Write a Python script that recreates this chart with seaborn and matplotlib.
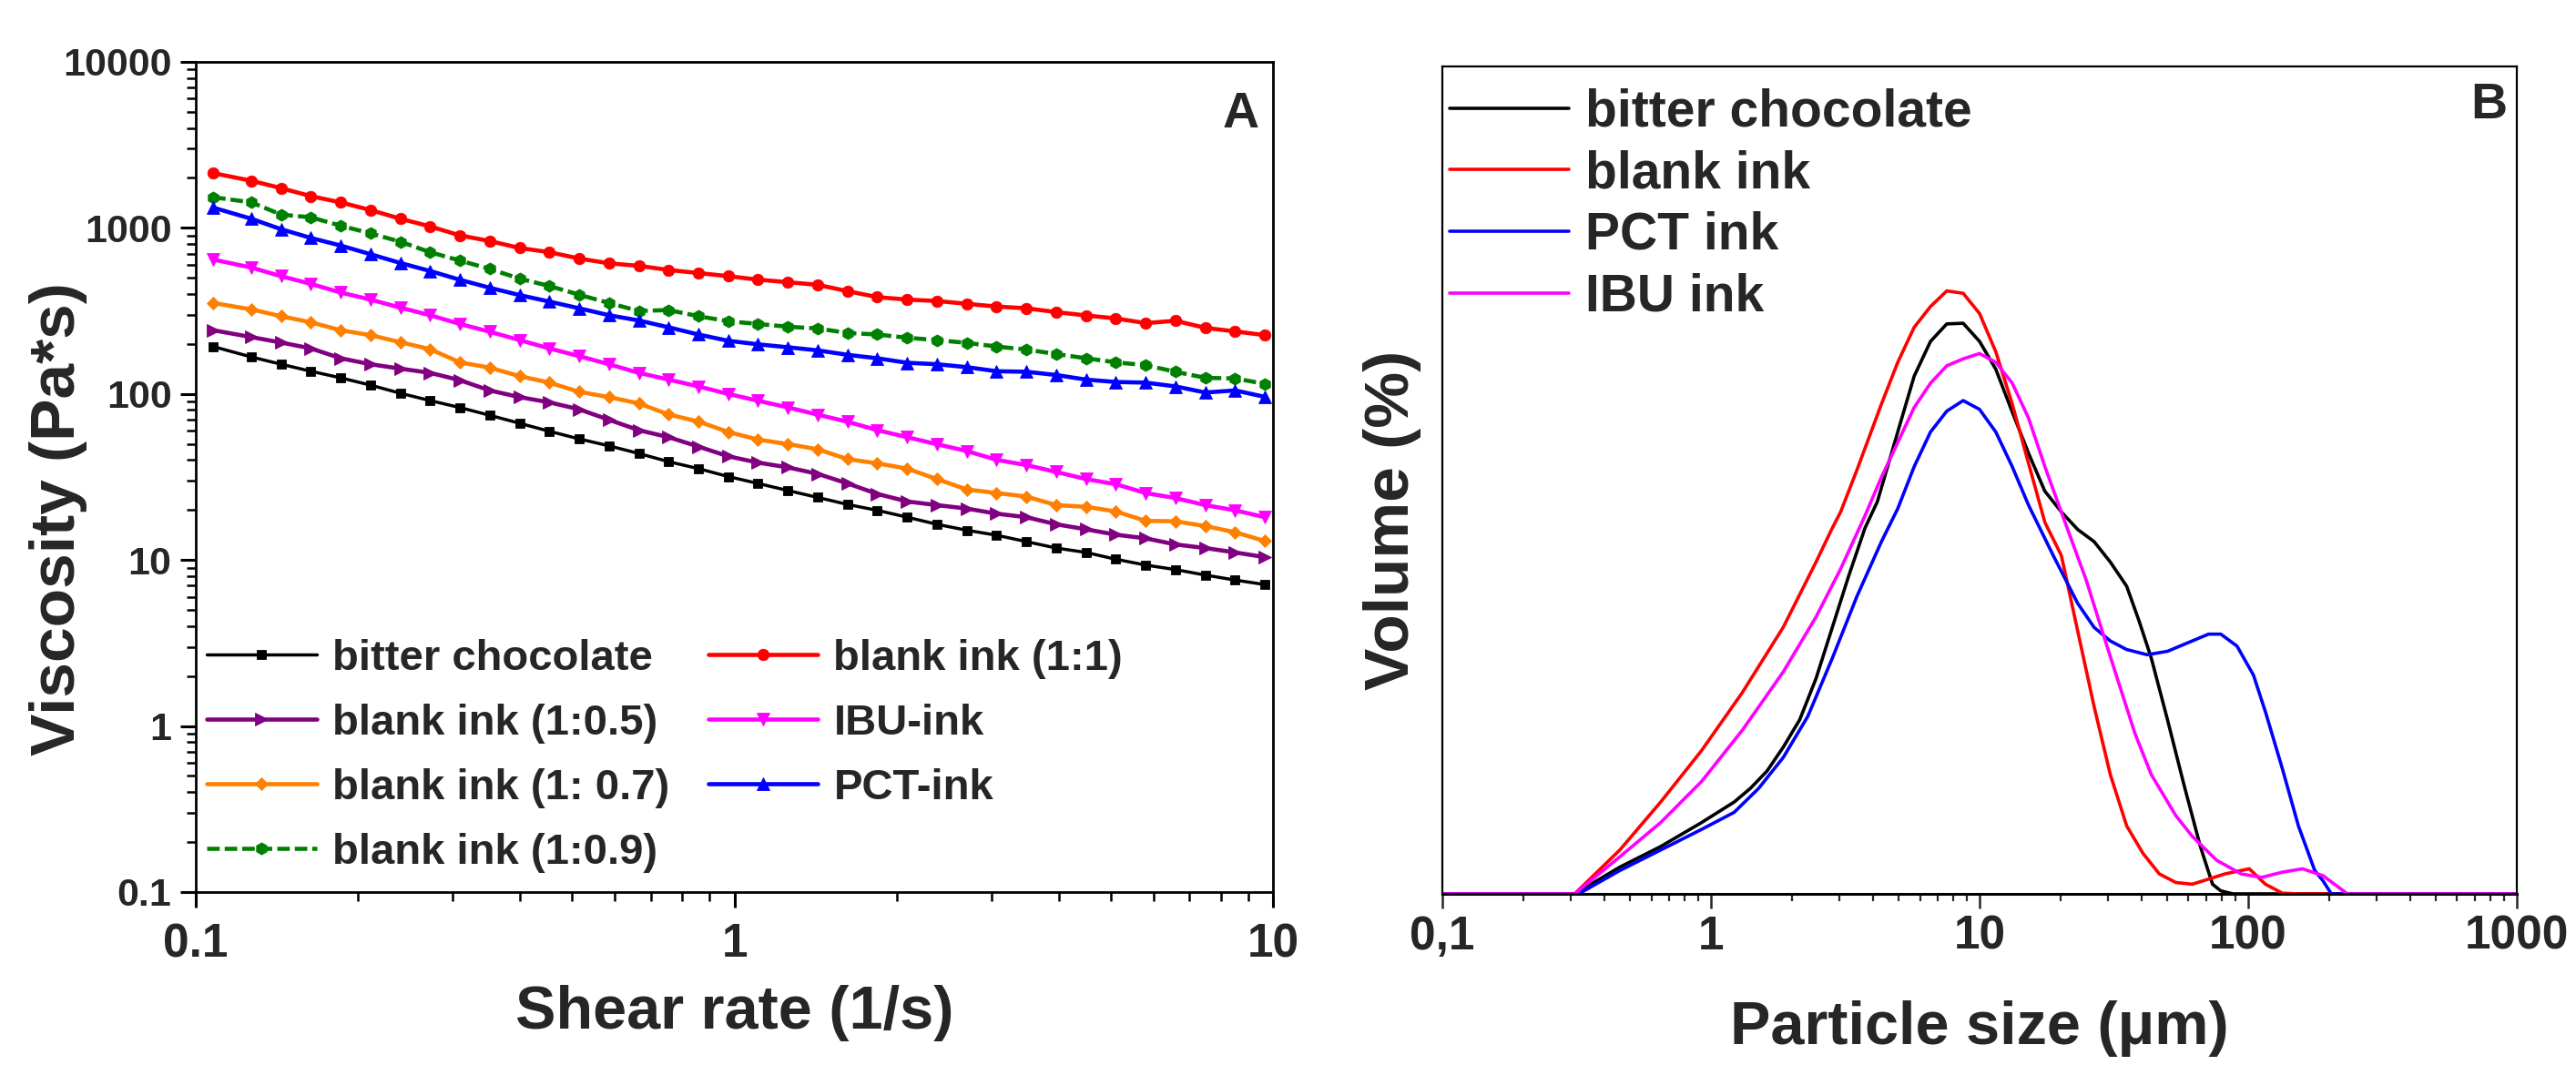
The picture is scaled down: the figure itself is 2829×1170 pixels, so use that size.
import numpy as np
import pandas as pd
import matplotlib
matplotlib.use('Agg')
import matplotlib.pyplot as plt
import matplotlib.ticker as mticker
import seaborn as sns

sns.set_theme(style='ticks')
plt.rcParams['font.family'] = ['Liberation Sans', 'DejaVu Sans']
plt.rcParams['font.weight'] = 'bold'
plt.rcParams['axes.labelweight'] = 'bold'

# panel A: viscosity vs shear rate
shear_rate = [0.1077, 0.1268, 0.1440, 0.1636, 0.1858, 0.2111, 0.2397, 0.2723, 0.3093, 0.3513,
              0.3991, 0.4533, 0.5149, 0.5849, 0.6644, 0.7547, 0.8573, 0.9741, 1.106, 1.257,
              1.428, 1.622, 1.842, 2.093, 2.377, 2.701, 3.067, 3.484, 3.958, 4.496,
              5.107, 5.801, 6.590, 7.485, 8.503, 9.658]
visc_choc = [193, 167, 151, 137, 125, 113, 101, 91.2, 82.8, 74.4, 66.6, 59.6, 53.6, 48.7, 43.8,
             39.1, 35.5, 31.8, 28.9, 26.2, 23.8, 21.6, 19.9, 18.1, 16.4, 15.1, 14.1, 12.9, 11.8,
             11.1, 10.1, 9.32, 8.75, 8.11, 7.57, 7.11]
visc_05 = [242, 220, 204, 188, 164, 151, 142, 134, 121, 105, 95.7, 89.0, 80.8, 69.9, 60.5, 54.9,
           48.2, 42.1, 38.6, 36.1, 33.0, 28.9, 25.0, 22.5, 21.4, 20.4, 19.0, 18.1, 16.4, 15.3,
           14.2, 13.5, 12.4, 11.8, 11.1, 10.4]
visc_07 = [353, 323, 294, 270, 242, 226, 205, 186, 155, 144, 128, 117, 103, 95.7, 87.7, 75.2,
           68.2, 59.0, 53.1, 49.9, 46.4, 40.5, 38.2, 35.5, 30.7, 26.6, 25.3, 24.1, 21.4, 20.9,
           19.6, 17.2, 17.1, 16.0, 14.7, 13.0]
visc_09 = [1531, 1425, 1203, 1158, 1031, 927, 826, 714, 636, 566, 495, 447, 396, 353, 316, 320,
           294, 274, 264, 254, 248, 233, 228, 218, 211, 203, 193, 185, 174, 164, 155, 149, 136,
           125, 124, 115]
visc_11 = [2138, 1923, 1736, 1553, 1424, 1281, 1136, 1021, 901, 834, 757, 714, 654, 612, 591, 558,
           535, 512, 488, 471, 454, 416, 383, 370, 363, 349, 336, 328, 311, 297, 285, 267, 276,
           250, 238, 226]
visc_ibu = [645, 577, 512, 460, 408, 370, 331, 298, 264, 237, 211, 188, 169, 151, 134, 122, 111,
            100, 91, 83, 75, 68, 60.5, 54.9, 49.8, 45.3, 40.1, 37.3, 33.9, 30.7, 28.6, 25.3, 23.6,
            21.4, 19.9, 18.1]
visc_pct = [1325, 1135, 982, 870, 783, 694, 615, 550, 487, 436, 394, 360, 328, 298, 277, 252, 228,
            209, 199, 191, 183, 172, 164, 154, 151, 145, 137, 136, 130, 122, 118, 117, 111, 102,
            105, 96]

# panel B: particle size distribution
size_choc = [0.1, 0.311, 0.458, 0.650, 0.923, 1.221, 1.404, 1.616, 1.859, 2.140, 2.461, 2.832,
             3.258, 3.748, 4.165, 4.96, 5.71, 6.57, 7.55, 8.69, 10.0, 11.5, 13.2, 15.2, 17.5,
             20.2, 23.2, 26.7, 30.7, 35.3, 39.2, 43.6, 50.1, 57.7, 66.4, 73.7, 79.1, 87.8, 1000]
vol_choc = [0, 0, 0.356, 0.629, 0.948, 1.221, 1.404, 1.631, 1.950, 2.314, 2.861, 3.544, 4.227,
            4.865, 5.214, 6.140, 6.882, 7.345, 7.577, 7.586, 7.345, 6.974, 6.418, 5.863, 5.354,
            5.075, 4.844, 4.683, 4.410, 4.090, 3.635, 3.134, 2.314, 1.449, 0.629, 0.128, 0.04, 0, 0]
size_blank = [0.1, 0.311, 0.458, 0.650, 0.923, 1.310, 1.859, 2.461, 2.832, 3.038, 3.494, 4.313,
              4.962, 5.708, 6.568, 7.553, 8.692, 10.0, 11.5, 13.24, 15.22, 17.52, 20.16, 23.19,
              26.68, 30.69, 35.31, 40.6, 46.7, 53.8, 61.9, 71.2, 81.9, 101, 116, 134, 154, 1000]
vol_blank = [0, 0, 0.583, 1.221, 1.905, 2.678, 3.544, 4.410, 4.865, 5.075, 5.632, 6.512, 7.067,
             7.531, 7.808, 8.016, 7.984, 7.716, 7.206, 6.512, 5.724, 4.937, 4.500, 3.498, 2.496,
             1.585, 0.903, 0.538, 0.265, 0.151, 0.128, 0.196, 0.265, 0.333, 0.128, 0.01, 0, 0]
size_pct = [0.1, 0.322, 0.458, 0.650, 0.923, 1.221, 1.507, 1.859, 2.295, 2.832, 3.494, 4.313,
            4.962, 5.708, 6.568, 7.553, 8.692, 10.0, 11.5, 13.24, 15.22, 18.8, 23.19, 26.68,
            30.69, 35.31, 42.1, 50.1, 61.9, 71.2, 79.1, 90.9, 104.7, 116.3, 133.8, 153.9, 177,
            190, 204, 1000]
vol_pct = [0, 0, 0.310, 0.583, 0.857, 1.084, 1.404, 1.813, 2.360, 3.134, 3.953, 4.682, 5.122,
           5.678, 6.140, 6.418, 6.558, 6.441, 6.140, 5.678, 5.168, 4.500, 3.863, 3.544, 3.362,
           3.248, 3.179, 3.225, 3.362, 3.453, 3.453, 3.294, 2.907, 2.406, 1.676, 0.903, 0.310,
           0.173, 0, 0]
size_ibu = [0.1, 0.311, 0.458, 0.650, 0.923, 1.310, 1.859, 2.461, 3.038, 3.748, 4.313, 4.962,
            5.708, 6.568, 7.553, 8.692, 10.0, 11.5, 13.24, 15.22, 17.52, 20.16, 24.9, 28.6, 32.9,
            37.9, 43.6, 53.8, 61.9, 76.3, 94.2, 112.3, 134, 159.4, 190, 218.5, 234, 1000]
vol_ibu = [0, 0, 0.493, 0.948, 1.494, 2.177, 2.951, 3.680, 4.318, 5.029, 5.539, 6.002, 6.465,
           6.789, 7.021, 7.113, 7.183, 7.067, 6.789, 6.326, 5.678, 5.075, 4.181, 3.498, 2.815,
           2.132, 1.585, 1.040, 0.766, 0.447, 0.265, 0.219, 0.288, 0.333, 0.242, 0.08, 0, 0]

series_a = [
    ('bitter chocolate', visc_choc, '#000000', 's', 7, '-', 2.5),
    ('blank ink (1:0.5)', visc_05, '#800080', '>', 9.5, '-', 3.3),
    ('blank ink (1: 0.7)', visc_07, '#ff8000', 'D', 7.5, '-', 3.3),
    ('blank ink (1:0.9)', visc_09, '#008000', 'h', 9.5, (0, (3, 1.2)), 3.3),
    ('blank ink (1:1)', visc_11, '#ff0000', 'o', 9, '-', 3.3),
    ('IBU-ink', visc_ibu, '#ff00ff', 'v', 9.5, '-', 3.3),
    ('PCT-ink', visc_pct, '#0000ff', '^', 9.5, '-', 3.3),
]
series_b = [
    ('bitter chocolate', size_choc, vol_choc, '#000000'),
    ('blank ink', size_blank, vol_blank, '#ff0000'),
    ('PCT ink', size_pct, vol_pct, '#0000ff'),
    ('IBU ink', size_ibu, vol_ibu, '#ff00ff'),
]

fig = plt.figure(figsize=(28.29, 11.7), dpi=100)
ax_a = fig.add_axes([0.0760, 0.1624, 0.4182, 0.7795])
ax_b = fig.add_axes([0.5599, 0.1607, 0.4171, 0.7769])

# ---- panel A
for label, visc, color, marker, ms, ls, lw in series_a:
    sns.lineplot(x=shear_rate, y=visc, ax=ax_a, color=color, label=label,
                 estimator=None, sort=False)
    line = ax_a.get_lines()[-1]
    line.set_marker(marker)
    line.set_markersize(ms)
    line.set_markerfacecolor(color)
    line.set_markeredgecolor(color)
    line.set_markeredgewidth(0.6)
    line.set_linestyle(ls)
    line.set_linewidth(lw)

ax_a.set_xscale('log')
ax_a.set_yscale('log')
ax_a.set_xlim(0.1, 10)
ax_a.set_ylim(0.1, 10000)
ax_a.xaxis.set_major_locator(mticker.FixedLocator([0.1, 1, 10]))
ax_a.xaxis.set_major_formatter(mticker.FixedFormatter(['0.1', '1', '10']))
ax_a.yaxis.set_major_locator(mticker.FixedLocator([0.1, 1, 10, 100, 1000, 10000]))
ax_a.yaxis.set_major_formatter(mticker.FixedFormatter(['0.1', '1', '10', '100', '1000', '10000']))
ax_a.xaxis.set_minor_locator(mticker.LogLocator(base=10, subs=np.arange(2, 10), numticks=20))
ax_a.yaxis.set_minor_locator(mticker.LogLocator(base=10, subs=np.arange(2, 10), numticks=20))
ax_a.xaxis.set_minor_formatter(mticker.NullFormatter())
ax_a.yaxis.set_minor_formatter(mticker.NullFormatter())
ax_a.tick_params(axis='both', which='major', direction='out', length=12, width=2.2, color='black')
ax_a.tick_params(axis='both', which='minor', direction='out', length=7, width=1.8, color='black')
ax_a.tick_params(axis='x', which='major', labelsize=37, pad=12)
ax_a.tick_params(axis='y', which='major', labelsize=31, pad=7)
for sp in ax_a.spines.values():
    sp.set_linewidth(2.0)
    sp.set_color('black')

ax_a.set_xlabel('Shear rate (1/s)', fontsize=48, fontweight='bold')
ax_a.set_ylabel('Viscosity (Pa*s)', fontsize=50, fontweight='bold')
ax_a.xaxis.set_label_coords(0.5, -0.112)
ax_a.yaxis.set_label_coords(-0.101, 0.45)
ax_a.text(0.987, 0.921, 'A', transform=ax_a.transAxes, ha='right', va='baseline',
          fontsize=40, fontweight='bold')

ax_a.legend(ncol=2, loc='upper left', bbox_to_anchor=(0.0101, 0.305), frameon=False,
            borderpad=0, borderaxespad=0, handlelength=2.56, handletextpad=0.36,
            labelspacing=0.57, columnspacing=0.9, prop={'weight': 'bold', 'size': 34})

# ---- panel B
for label, size, vol, color in series_b:
    sns.lineplot(x=size, y=vol, ax=ax_b, color=color, label=label,
                 estimator=None, sort=False)
    ax_b.get_lines()[-1].set_linewidth(2.6)

ax_b.set_xscale('log')
ax_b.set_xlim(0.1, 1000)
ax_b.set_ylim(0, 11)
ax_b.set_yticks([])
ax_b.xaxis.set_major_locator(mticker.FixedLocator([0.1, 1, 10, 100, 1000]))
ax_b.xaxis.set_major_formatter(mticker.FixedFormatter(['0,1', '1', '10', '100', '1000']))
ax_b.xaxis.set_minor_locator(mticker.LogLocator(base=10, subs=np.arange(2, 10), numticks=20))
ax_b.xaxis.set_minor_formatter(mticker.NullFormatter())
ax_b.tick_params(axis='x', which='major', direction='out', length=11.5, width=1.8,
                 labelsize=37, pad=5)
ax_b.tick_params(axis='x', which='minor', direction='out', length=6, width=1.6)
for name, sp in ax_b.spines.items():
    sp.set_linewidth(2.2 if name == 'bottom' else 1.6)
    sp.set_color('black')

ax_b.set_xlabel('Particle size (\u03bcm)', fontsize=48, fontweight='bold')
ax_b.set_ylabel('Volume (%)', fontsize=50, fontweight='bold')
ax_b.xaxis.set_label_coords(0.5, -0.129)
ax_b.yaxis.set_label_coords(-0.0195, 0.452)
ax_b.text(0.9907, 0.937, 'B', transform=ax_b.transAxes, ha='right', va='baseline',
          fontsize=40, fontweight='bold')

ax_b.legend(loc='upper left', bbox_to_anchor=(0.0068, 0.974), frameon=False,
            borderpad=0, borderaxespad=0, handlelength=2.3, handletextpad=0.31,
            labelspacing=0.24, prop={'weight': 'bold', 'size': 41})

fig.savefig('out.png', dpi=100, facecolor='white')
